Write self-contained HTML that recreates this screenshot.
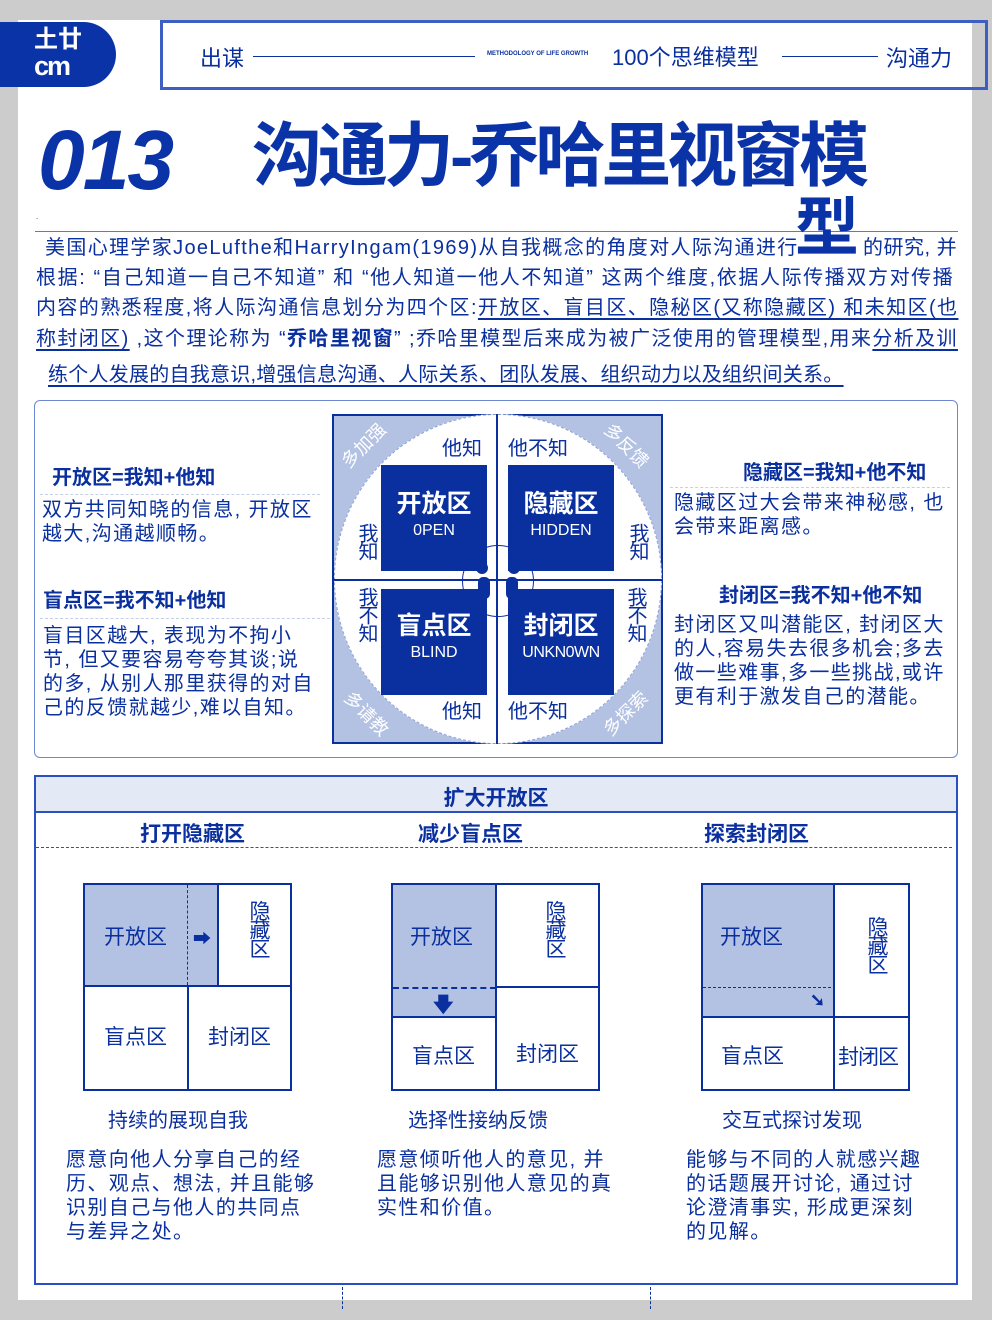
<!DOCTYPE html>
<html><head><meta charset="utf-8"><style>
*{margin:0;padding:0;box-sizing:border-box}
body{width:992px;height:1320px;background:#cccccc;position:relative;overflow:hidden;font-family:"Liberation Sans","Noto Sans CJK SC",sans-serif;color:#0a2f9e}
.a{position:absolute;white-space:nowrap}
.b{font-weight:bold}
.u{text-decoration:underline;text-underline-offset:4px}
.p{font-size:20px;line-height:24px}
.sm{font-size:20px;line-height:24px;letter-spacing:1.4px}
.dk{background:#0a2f9e;color:#fff}
.lt{background:#b3c1e3}
.v{writing-mode:vertical-rl;text-orientation:upright;letter-spacing:-2px}
</style></head><body>
<div class="a" style="left:18px;top:20px;width:954px;height:1280px;background:#fff"></div>
<!-- logo -->
<div class="a" style="left:0;top:22px;width:116px;height:65px;background:#0a33a8;border-radius:0 34px 34px 0"></div>
<div class="a b" style="left:34px;top:28px;color:#fff;font-size:24px;line-height:24px">⼟廿</div>
<div class="a b" style="left:34px;top:52px;color:#fff;font-size:27px;line-height:28px;letter-spacing:-2px">cm</div>
<!-- header -->
<div class="a" style="left:160px;top:20px;width:828px;height:70px;border:3px solid #3d5fc4"></div>
<div class="a" style="left:200px;top:41px;font-size:22px">出谋</div>
<div class="a" style="left:253px;top:56px;width:222px;border-top:1.5px solid #0a2f9e"></div>
<div class="a b" style="left:487px;top:51px;font-size:6px">METHODOLOGY OF LIFE GROWTH</div>
<div class="a" style="left:612px;top:40px;font-size:22px">100个思维模型</div>
<div class="a" style="left:782px;top:56px;width:96px;border-top:1.5px solid #0a2f9e"></div>
<div class="a" style="left:886px;top:41px;font-size:22px">沟通力</div>
<!-- title -->
<div class="a b" style="left:38px;top:112px;font-size:84px;line-height:96px;font-style:italic;color:#0a33a8;letter-spacing:-2px">013</div>
<div class="a b" style="left:252px;top:114px;font-size:70px;line-height:84px;color:#0a33a8;letter-spacing:-4px">沟通力-乔哈里视窗模</div>
<div class="a" style="left:35px;top:231px;width:923px;border-top:1.5px solid #5b78cf"></div>
<div class="a" style="left:36px;top:212px;font-size:8px">.</div>
<!-- paragraph -->
<div class="a p" style="left:45px;top:236px;letter-spacing:1.35px">美国心理学家JoeLufthe和HarryIngam(1969)从自我概念的角度对人际沟通进行</div>
<div class="a p" style="left:863px;top:236px;letter-spacing:0.5px">的研究, 并</div>
<div class="a b" style="left:795px;top:188px;font-size:64px;line-height:80px;color:#0a33a8">型</div>
<div class="a p" style="left:36px;top:266px;letter-spacing:1.6px">根据: “自己知道一自己不知道” 和 “他人知道一他人不知道” 这两个维度,依据人际传播双方对传播</div>
<div class="a p" style="left:36px;top:296px;letter-spacing:1.4px">内容的熟悉程度,将人际沟通信息划分为四个区:<span class="u">开放区、盲目区、隐秘区(又称隐藏区) 和未知区(也</span></div>
<div class="a p" style="left:36px;top:327px;letter-spacing:1.4px"><span class="u">称封闭区)</span> ,这个理论称为 “<b>乔哈里视窗</b>” ;乔哈里模型后来成为被广泛使用的管理模型,用来<span class="u">分析及训</span></div>
<div class="a p u" style="left:48px;top:363px;letter-spacing:0.25px">练个人发展的自我意识,增强信息沟通、人际关系、团队发展、组织动力以及组织间关系。</div>
<!-- section 1 -->
<div class="a" style="left:34px;top:400px;width:924px;height:358px;border:1.5px solid #6f88d4;border-radius:6px"></div>
<div class="a b" style="left:52px;top:461px;font-size:20px">开放区=我知+他知</div>
<div class="a" style="left:40px;top:494px;width:280px;border-top:1px dashed #c5cfe8"></div>
<div class="a sm" style="left:42px;top:498px">双方共同知晓的信息, 开放区<br>越大,沟通越顺畅。</div>
<div class="a b" style="left:43px;top:584px;font-size:20px">盲点区=我不知+他知</div>
<div class="a" style="left:40px;top:618px;width:290px;border-top:1px dashed #c5cfe8"></div>
<div class="a sm" style="left:43px;top:624px">盲目区越大, 表现为不拘小<br>节, 但又要容易夸夸其谈;说<br>的多, 从别人那里获得的对自<br>己的反馈就越少,难以自知。</div>
<div class="a b" style="left:743px;top:456px;font-size:20px">隐藏区=我知+他不知</div>
<div class="a" style="left:670px;top:487px;width:280px;border-top:1px dashed #c5cfe8"></div>
<div class="a sm" style="left:674px;top:491px">隐藏区过大会带来神秘感, 也<br>会带来距离感。</div>
<div class="a b" style="left:719px;top:579px;font-size:20px">封闭区=我不知+他不知</div>
<div class="a sm" style="left:674px;top:613px">封闭区又叫潜能区, 封闭区大<br>的人,容易失去很多机会;多去<br>做一些难事,多一些挑战,或许<br>更有利于激发自己的潜能。</div>
<!-- window diagram -->
<div class="a lt" style="left:332px;top:414px;width:331px;height:330px;border:2px solid #0a2f9e"></div>
<div class="a" style="left:334px;top:414px;width:328px;height:330px;border-radius:50%;background:#fff;border:1px dashed #8fa3d8"></div>
<div class="a" style="left:496px;top:414px;width:2px;height:330px;background:#0a2f9e"></div>
<div class="a" style="left:332px;top:579px;width:331px;height:2px;background:#0a2f9e"></div>
<div class="a" style="left:462px;top:545px;width:72px;height:72px;border-radius:50%;border:1px solid #0a2f9e"></div>
<div class="a dk" style="left:381px;top:465px;width:106px;height:106px"></div>
<div class="a dk" style="left:508px;top:465px;width:106px;height:106px"></div>
<div class="a dk" style="left:381px;top:589px;width:106px;height:106px"></div>
<div class="a dk" style="left:508px;top:589px;width:106px;height:106px"></div>
<div class="a b" style="left:381px;top:484px;width:106px;text-align:center;color:#fff;font-size:25px">开放区</div>
<div class="a" style="left:381px;top:522px;width:106px;text-align:center;color:#fff;font-size:16px">0PEN</div>
<div class="a b" style="left:508px;top:484px;width:106px;text-align:center;color:#fff;font-size:25px">隐藏区</div>
<div class="a" style="left:508px;top:522px;width:106px;text-align:center;color:#fff;font-size:16px">HIDDEN</div>
<div class="a b" style="left:381px;top:606px;width:106px;text-align:center;color:#fff;font-size:25px">盲点区</div>
<div class="a" style="left:381px;top:644px;width:106px;text-align:center;color:#fff;font-size:16px">BLIND</div>
<div class="a b" style="left:508px;top:606px;width:106px;text-align:center;color:#fff;font-size:25px">封闭区</div>
<div class="a" style="left:508px;top:644px;width:106px;text-align:center;color:#fff;font-size:16px;letter-spacing:-0.5px">UNKN0WN</div>
<div class="a" style="left:476px;top:562px;width:12px;height:12px;border-radius:50%;background:#0a2f9e"></div>
<div class="a" style="left:508px;top:562px;width:12px;height:12px;border-radius:50%;background:#0a2f9e"></div>
<div class="a" style="left:478px;top:577px;width:12px;height:22px;border-radius:5px;background:#0a2f9e"></div>
<div class="a" style="left:506px;top:577px;width:12px;height:22px;border-radius:5px;background:#0a2f9e"></div>
<div class="a" style="left:442px;top:432px;font-size:20px">他知</div>
<div class="a" style="left:508px;top:432px;font-size:20px">他不知</div>
<div class="a" style="left:442px;top:695px;font-size:20px">他知</div>
<div class="a" style="left:508px;top:695px;font-size:20px">他不知</div>
<div class="a v" style="left:352px;top:523px;font-size:20px">我知</div>
<div class="a v" style="left:623px;top:523px;font-size:20px">我知</div>
<div class="a v" style="left:352px;top:587px;font-size:20px">我不知</div>
<div class="a v" style="left:621px;top:587px;font-size:20px">我不知</div>
<div class="a" style="left:336px;top:432px;color:#fff;font-size:18px;transform:rotate(-45deg)">多加强</div>
<div class="a" style="left:600px;top:432px;color:#fff;font-size:18px;transform:rotate(45deg)">多反馈</div>
<div class="a" style="left:340px;top:700px;color:#fff;font-size:18px;transform:rotate(45deg)">多请教</div>
<div class="a" style="left:598px;top:700px;color:#fff;font-size:18px;transform:rotate(-45deg)">多探索</div>
<!-- section 2 -->
<div class="a" style="left:34px;top:775px;width:924px;height:510px;border:2px solid #2a4fc0"></div>
<div class="a" style="left:36px;top:777px;width:920px;height:36px;background:#e4e9f6;border-bottom:2px solid #2a4fc0"></div>
<div class="a b" style="left:36px;top:782px;width:920px;text-align:center;font-size:21px">扩大开放区</div>
<div class="a b" style="left:140px;top:818px;font-size:21px">打开隐藏区</div>
<div class="a b" style="left:418px;top:818px;font-size:21px">减少盲点区</div>
<div class="a b" style="left:704px;top:818px;font-size:21px">探索封闭区</div>
<div class="a" style="left:36px;top:847px;width:916px;border-top:1.5px dashed #2a4fc0"></div>
<!-- box1 -->
<div class="a" style="left:83px;top:883px;width:209px;height:208px;border:2px solid #0a2f9e"></div>
<div class="a lt" style="left:85px;top:885px;width:132px;height:101px"></div>
<div class="a" style="left:217px;top:883px;width:2px;height:104px;background:#0a2f9e"></div>
<div class="a" style="left:83px;top:985px;width:209px;height:2px;background:#0a2f9e"></div>
<div class="a" style="left:187px;top:987px;width:2px;height:104px;background:#0a2f9e"></div>
<div class="a" style="left:187px;top:885px;height:100px;border-left:1.5px dashed #0a2f9e"></div>
<div class="a" style="left:104px;top:921px;font-size:21px">开放区</div>
<div class="a" style="left:193px;top:925px;font-size:18px">➡</div>
<div class="a v" style="left:243px;top:900px;font-size:21px">隐藏区</div>
<div class="a" style="left:104px;top:1021px;font-size:21px">盲点区</div>
<div class="a" style="left:208px;top:1021px;font-size:21px">封闭区</div>
<!-- box2 -->
<div class="a" style="left:391px;top:883px;width:209px;height:208px;border:2px solid #0a2f9e"></div>
<div class="a lt" style="left:393px;top:885px;width:103px;height:131px"></div>
<div class="a" style="left:495px;top:883px;width:2px;height:208px;background:#0a2f9e"></div>
<div class="a" style="left:497px;top:986px;width:103px;height:2px;background:#0a2f9e"></div>
<div class="a" style="left:391px;top:1016px;width:106px;height:2px;background:#0a2f9e"></div>
<div class="a" style="left:393px;top:987px;width:103px;border-top:2px dashed #0a2f9e"></div>
<div class="a" style="left:410px;top:921px;font-size:21px">开放区</div>
<div class="a b" style="left:433px;top:990px;font-size:20px">🡇</div>
<div class="a v" style="left:539px;top:900px;font-size:21px">隐藏区</div>
<div class="a" style="left:412px;top:1040px;font-size:21px">盲点区</div>
<div class="a" style="left:516px;top:1038px;font-size:21px">封闭区</div>
<!-- box3 -->
<div class="a" style="left:701px;top:883px;width:209px;height:208px;border:2px solid #0a2f9e"></div>
<div class="a lt" style="left:703px;top:885px;width:131px;height:131px"></div>
<div class="a" style="left:833px;top:883px;width:2px;height:208px;background:#0a2f9e"></div>
<div class="a" style="left:701px;top:1016px;width:209px;height:2px;background:#0a2f9e"></div>
<div class="a" style="left:703px;top:987px;width:128px;border-top:1px dashed #0a2f9e"></div>
<div class="a" style="left:720px;top:921px;font-size:21px">开放区</div>
<div class="a b" style="left:810px;top:990px;font-size:18px">➘</div>
<div class="a v" style="left:861px;top:916px;font-size:21px">隐藏区</div>
<div class="a" style="left:721px;top:1040px;font-size:21px">盲点区</div>
<div class="a" style="left:838px;top:1041px;font-size:21px;letter-spacing:-1px">封闭区</div>
<!-- captions -->
<div class="a" style="left:108px;top:1104px;font-size:20px">持续的展现自我</div>
<div class="a" style="left:408px;top:1104px;font-size:20px">选择性接纳反馈</div>
<div class="a" style="left:722px;top:1104px;font-size:20px">交互式探讨发现</div>
<div class="a sm" style="left:66px;top:1148px">愿意向他人分享自己的经<br>历、观点、想法, 并且能够<br>识别自己与他人的共同点<br>与差异之处。</div>
<div class="a sm" style="left:377px;top:1148px">愿意倾听他人的意见, 并<br>且能够识别他人意见的真<br>实性和价值。</div>
<div class="a sm" style="left:686px;top:1148px">能够与不同的人就感兴趣<br>的话题展开讨论, 通过讨<br>论澄清事实, 形成更深刻<br>的见解。</div>
<div class="a" style="left:342px;top:1287px;height:22px;border-left:1.5px dashed #0a2f9e"></div>
<div class="a" style="left:650px;top:1287px;height:22px;border-left:1.5px dashed #0a2f9e"></div>
</body></html>
